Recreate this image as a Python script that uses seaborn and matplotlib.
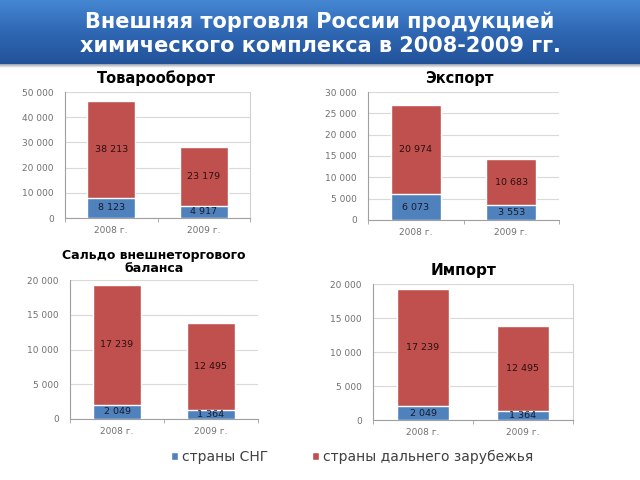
import numpy as np
import pandas as pd
import matplotlib
matplotlib.use("Agg")
import matplotlib.pyplot as plt
import seaborn as sns
from matplotlib.ticker import FuncFormatter, FixedLocator
from matplotlib.patches import Patch

# data
years = ["2008 г.", "2009 г."]
cis_trade = [8123, 4917]
far_trade = [38213, 23179]
cis_export = [6073, 3553]
far_export = [20974, 10683]
cis_balance = [2049, 1364]
far_balance = [17239, 12495]
cis_import = [2049, 1364]
far_import = [17239, 12495]

BLUE = "#4F81BD"
RED = "#C0504D"

sns.set_theme(style="white")
plt.rcParams["font.family"] = ["DejaVu Sans"]

fig = plt.figure(figsize=(6.4, 4.8), dpi=100)
W, H = 640, 480


def rect(l, t, r, b):
    return [l / W, 1 - b / H, (r - l) / W, (b - t) / H]


# header banner with gradient
hdr = fig.add_axes(rect(0, 0, 640, 64))
grad = np.linspace(0, 1, 100).reshape(-1, 1)
cmap = matplotlib.colors.LinearSegmentedColormap.from_list("hdr", ["#4587D2", "#2F67B3", "#22539A"])
hdr.imshow(grad, aspect="auto", cmap=cmap, extent=[0, 1, 0, 1])
hdr.set_axis_off()
shadow = fig.add_axes(rect(0, 64, 640, 68))
shadow.imshow(np.linspace(0, 1, 10).reshape(-1, 1), aspect="auto",
              cmap=matplotlib.colors.LinearSegmentedColormap.from_list("sh", ["#9aa3ad", "#ffffff"]),
              extent=[0, 1, 0, 1])
shadow.set_axis_off()
fig.text(0.5, 1 - 34 / H, "Внешняя торговля России продукцией\nхимического комплекса в 2008-2009 гг.",
         ha="center", va="center", color="white", fontsize=15, fontweight="bold", linespacing=1.25)


def fmt(v, pos):
    return f"{int(round(v)):,}".replace(",", " ")


def panel(box, cis, far, ymax, step, right_spine):
    ax = fig.add_axes(rect(*box))
    df = pd.DataFrame({"year": years, "cis": cis, "far": far})
    df["total"] = df["cis"] + df["far"]
    sns.barplot(data=df, x="year", y="total", color=RED, saturation=1, width=0.52, ax=ax, zorder=2)
    sns.barplot(data=df, x="year", y="cis", color=BLUE, saturation=1, width=0.52, ax=ax, zorder=3)
    for i, row in df.iterrows():
        ax.text(i, row["cis"] / 2, fmt(row["cis"], None), ha="center", va="center",
                fontsize=6.8, color="#1a1a2a", zorder=4)
        ax.text(i, row["cis"] + row["far"] / 2, fmt(row["far"], None), ha="center", va="center",
                fontsize=6.8, color="#2a1010", zorder=4)
    ax.set_xlim(-0.5, 1.5)
    ax.set_ylim(0, ymax)
    ax.set_yticks(np.arange(0, ymax + 1, step))
    ax.yaxis.set_major_formatter(FuncFormatter(fmt))
    ax.xaxis.set_minor_locator(FixedLocator([-0.5, 0.5, 1.5]))
    ax.grid(axis="y", color="#d9d9d9", linewidth=0.8, zorder=0)
    ax.set_axisbelow(True)
    ax.set_xlabel("")
    ax.set_ylabel("")
    ax.tick_params(axis="y", labelsize=6.5, labelcolor="#707070", length=2, color="#a0a0a0", width=0.6, pad=6)
    ax.tick_params(axis="x", which="major", labelsize=6.5, labelcolor="#707070", length=0, pad=6)
    ax.tick_params(axis="x", which="minor", length=3, color="#a0a0a0", width=0.6, bottom=True)
    ax.spines["top"].set_visible(False)
    ax.spines["right"].set_visible(right_spine)
    ax.spines["right"].set_color("#d0d0d0")
    ax.spines["left"].set_color("#a0a0a0")
    ax.spines["bottom"].set_color("#a0a0a0")
    for s in ax.spines.values():
        s.set_linewidth(0.8)
    return ax


panel((65, 92, 250, 218), cis_trade, far_trade, 50000, 10000, True)
panel((368, 92, 559, 220), cis_export, far_export, 30000, 5000, False)
panel((70, 280, 258, 419), cis_balance, far_balance, 20000, 5000, False)
panel((373, 284, 573, 420), cis_import, far_import, 20000, 5000, True)

title_kw = dict(ha="center", va="center", fontweight="bold", color="black")
fig.text(156 / W, 1 - 78 / H, "Товарооборот", fontsize=10.5, **title_kw)
fig.text(459 / W, 1 - 79 / H, "Экспорт", fontsize=10.5, **title_kw)
fig.text(154 / W, 1 - 262 / H, "Сальдо внешнеторгового\nбаланса", fontsize=9, linespacing=1.05, **title_kw)
fig.text(464 / W, 1 - 270 / H, "Импорт", fontsize=11, **title_kw)

handles = [Patch(facecolor=BLUE, label="страны СНГ"),
           Patch(facecolor=RED, label="страны дальнего зарубежья")]
leg = fig.legend(handles=handles, loc="center", bbox_to_anchor=(352 / W, 1 - 457 / H), ncol=2,
                 frameon=False, fontsize=10, handlelength=0.5, handleheight=0.5,
                 handletextpad=0.25, columnspacing=3.2)
for t in leg.get_texts():
    t.set_color("#404040")

fig.savefig("out.png", dpi=100)
